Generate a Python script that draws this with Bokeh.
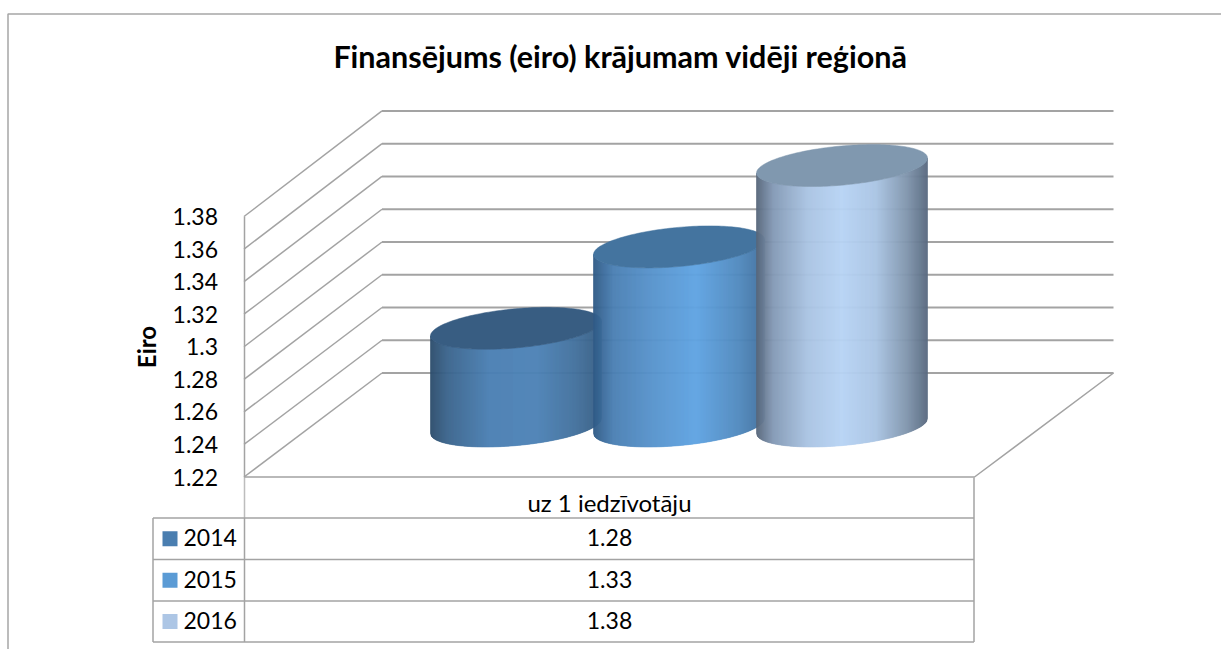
import numpy as np
from bokeh.core.properties import value
from bokeh.embed import file_html
from bokeh.models import FixedTicker, LinearAxis, Range1d
from bokeh.plotting import figure
from bokeh.resources import INLINE

TITLE = "Finansējums (eiro) krājumam vidēji reģionā"
Y_LABEL = "Eiro"
CATEGORY = "uz 1 iedzīvotāju"
YEARS = ["2014", "2015", "2016"]
VALUES = [1.28, 1.33, 1.38]
VALUE_LABELS = ["1.28", "1.33", "1.38"]
TICKS = [1.22, 1.24, 1.26, 1.28, 1.30, 1.32, 1.34, 1.36, 1.38]
TICK_LABELS = ["1.22", "1.24", "1.26", "1.28", "1.3", "1.32", "1.34", "1.36", "1.38"]
BASE = TICKS[0]

GRID = "#a3a3a3"
TEXT = "#000000"
FONT = "Lato"
LEGEND_COLORS = ["#4a7eb0", "#5b9bd5", "#adc6e5"]
TOP_COLORS = ["#385d82", "#44749f", "#8098af"]
STOPS = [
    [(0, "#2c4c6b"), (0.1, "#3a648c"), (0.35, "#4a7fb3"), (0.62, "#4c82b6"), (0.85, "#42709c"), (1, "#365d83")],
    [(0, "#2f5a85"), (0.12, "#4a7fb3"), (0.35, "#5793cc"), (0.6, "#5fa3e2"), (0.85, "#5089be"), (1, "#41709d")],
    [(0, "#566579"), (0.1, "#8399b5"), (0.3, "#a9c3e2"), (0.5, "#b7d3f4"), (0.7, "#a9c4e3"), (0.88, "#8095ad"), (1, "#596a80")],
]

PX = 1628.0                # pixels per unit of the value axis
Y0 = 476.5                 # screen row of the base value on the front wall
to_val = lambda px: BASE + (Y0 - px) / PX   # screen row to value coordinate
dv = lambda px: px / PX                     # pixel height in value units

p = figure(width=1221, height=649, output_backend="svg", toolbar_location=None,
           x_range=Range1d(0, 1221), y_range=Range1d(to_val(649), to_val(0)),
           x_axis_location=None, y_axis_location=None, min_border=0,
           outline_line_color=None, background_fill_color="white", border_fill_color="white",
           styles={"position": "absolute", "left": "0px", "top": "0px"})
p.grid.visible = False

# outer frame (left and top edges only are in view)
p.line([7.5, 7.5, 1221], [to_val(649), to_val(13.5), to_val(13.5)], line_color="#a6a6a6", line_width=1.5)

# walls and floor: the back wall's scale is very slightly taller than the front edge's
FX, BX, RX, DEPTH_PX, BACK_STRETCH = 243.5, 381.5, 1113, 104, 1.006
for t in TICKS:
    back = BASE + dv(DEPTH_PX) + (t - BASE) * BACK_STRETCH
    p.line([FX, BX], [t, back], line_color=GRID, line_width=1.5)
    p.line([BX, RX], [back, back], line_color=GRID, line_width=2)
p.line([FX, 974, RX], [BASE, BASE, BASE + dv(DEPTH_PX)], line_color=GRID, line_width=1.5)

# value axis on the front wall edge
axis = LinearAxis(fixed_location=FX, ticker=FixedTicker(ticks=TICKS), bounds=(TICKS[0], TICKS[-1]),
                  major_label_overrides={t: s for t, s in zip(TICKS, TICK_LABELS)},
                  major_tick_line_color=None, minor_tick_line_color=None,
                  axis_line_color=GRID, axis_line_width=1.5,
                  major_label_text_font=FONT, major_label_text_font_size="23px", major_label_text_color=TEXT,
                  major_label_standoff=20,
                  axis_label=Y_LABEL, axis_label_text_font=FONT, axis_label_text_font_style="bold",
                  axis_label_text_font_size="24px", axis_label_text_color=TEXT, axis_label_standoff=9)
p.add_layout(axis, "left")

# cylinders
W, SKEW, H = 85.5, 7.5, 19.6
LIFT = dv(51)
CX = [515.5, 678.5, 841.5]

def edge(u, cy):
    return cy + dv(SKEW) * u - dv(H) * np.sqrt(np.clip(1 - u * u, 0, 1))

for cx, v, stops, top in zip(CX, VALUES, STOPS, TOP_COLORS):
    xs = np.arange(cx - W, cx + W, 1.0)
    xs = np.append(xs, cx + W)
    sx, sy, colors = [], [], []
    pos = [s[0] for s in stops]
    rgb = np.array([[int(s[1][i:i + 2], 16) for i in (1, 3, 5)] for s in stops])
    for a, b in zip(xs[:-1], xs[1:]):
        ua, ub = (a - cx) / W, (b - cx) / W
        f = ((a + b) / 2 - (cx - W)) / (2 * W)
        c = [int(round(np.interp(f, pos, rgb[:, k]))) for k in range(3)]
        colors.append("#%02x%02x%02x" % tuple(c))
        sx.append([a, b, b, a])
        sy.append([edge(ua, BASE + LIFT), edge(ub, BASE + LIFT), edge(ub, v + LIFT), edge(ua, v + LIFT)])
    p.patches(sx, sy, fill_color=colors, line_color=colors, line_width=0.6)
    t = np.linspace(0, 2 * np.pi, 180)
    p.patch(cx + W * np.cos(t), v + LIFT + dv(SKEW) * np.cos(t) + dv(H) * np.sin(t), fill_color=top, line_color=top, line_width=0.5)

# data table
TL, TM, TR = 152.5, 244, 973.5
ROWS = [517.5, 559, 600.5, 641.5]
p.line([TM, TM], [to_val(477), to_val(ROWS[0])], line_color="#bdbdbd", line_width=1.5)
p.line([TM, TM], [to_val(ROWS[0]), to_val(ROWS[-1])], line_color=GRID, line_width=1.5)
p.line([TR, TR], [to_val(477), to_val(ROWS[-1])], line_color=GRID, line_width=1.5)
p.line([TL, TL], [to_val(ROWS[0]), to_val(ROWS[-1])], line_color=GRID, line_width=1.5)
for r in ROWS:
    p.line([TL, TR], [to_val(r), to_val(r)], line_color=GRID, line_width=1.5)

txt = dict(text_font=value(FONT), text_color=TEXT, text_font_size="23px", text_baseline="middle")
for i, (yr, lab, col) in enumerate(zip(YEARS, VALUE_LABELS, LEGEND_COLORS)):
    mid = (ROWS[i] + ROWS[i + 1]) / 2
    p.quad(left=[162], right=[177], top=[to_val(mid - 7.5)], bottom=[to_val(mid + 7.5)], fill_color=col, line_color=None)
    p.text([183], [to_val(mid - 1)], text=[yr], text_align="left", **txt)
    p.text([609], [to_val(mid - 1)], text=[lab], text_align="center", **txt)
p.text([609], [to_val(502)], text=[CATEGORY], text_align="center", **{**txt, "text_font_size": "24px"})
p.text([620], [to_val(55)], text=[TITLE], text_align="center", text_font_style="bold", **{**txt, "text_font_size": "30.5px"})

open("out.html", "w").write(file_html(p, INLINE))
